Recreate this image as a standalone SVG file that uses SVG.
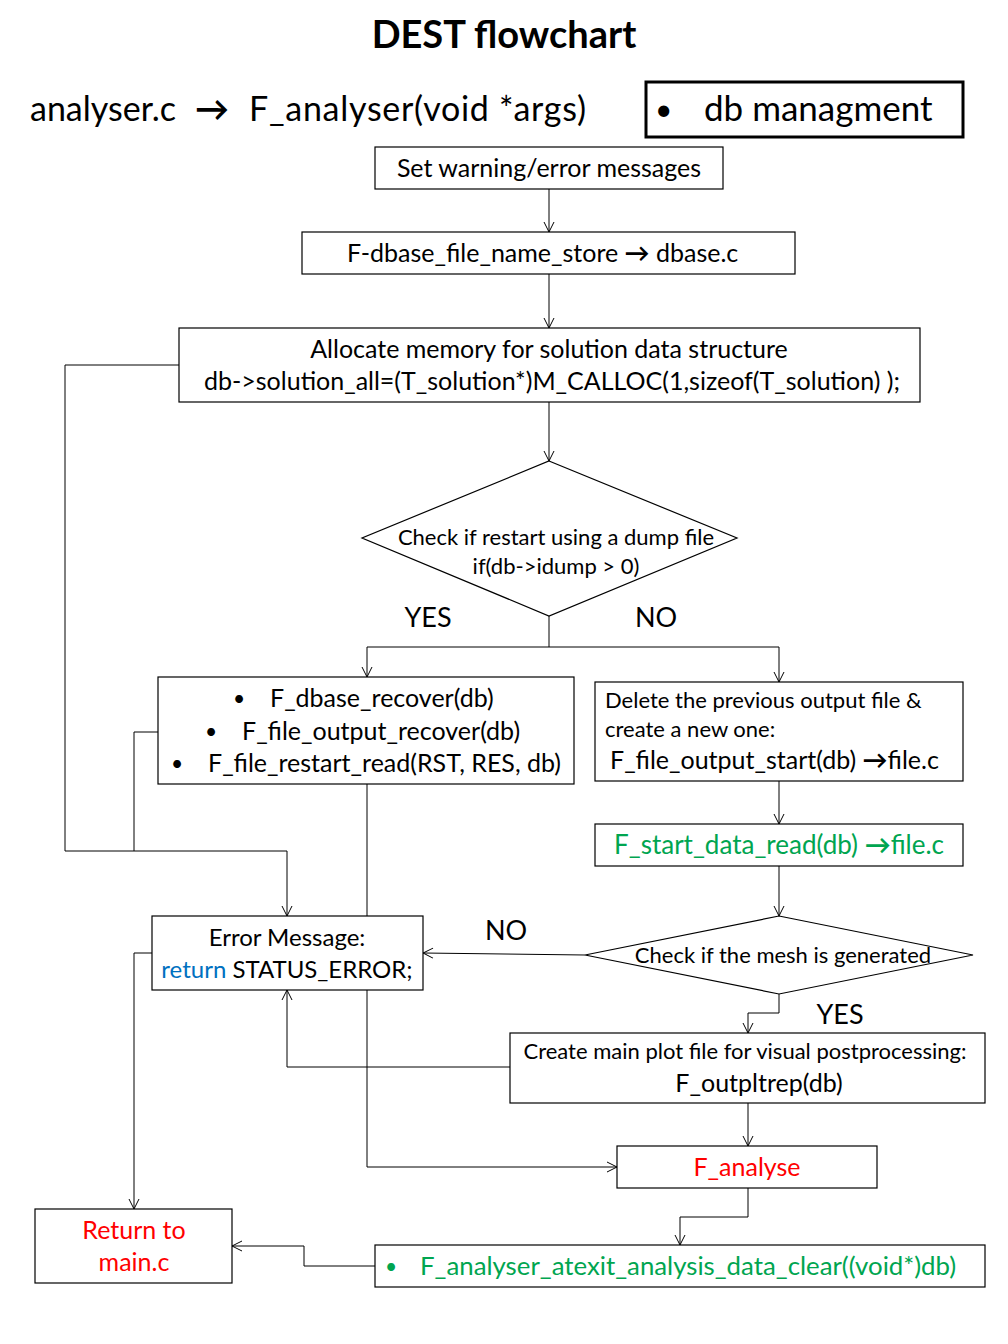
<svg xmlns="http://www.w3.org/2000/svg" width="1008" height="1344" viewBox="0 0 1008 1344">
  <style>
    text { font-family: Lato, "Open Sans", "Liberation Sans", sans-serif; fill: #000; }
    .box { fill: #fff; stroke: #000; stroke-width: 1.2; }
    .t { font-size: 25px; }
    .s { font-size: 22px; }
    .mid { text-anchor: middle; }
    .lbl { font-size: 27px; }
    .arr { font-weight: bold; }
    .green { fill: #00a550; }
    .red { fill: #ff0000; }
    .blue { fill: #0070c0; }
    .wire { fill: none; stroke: #000; stroke-width: 1; }
  </style>
  <defs>
    <marker id="arrow" viewBox="0 0 12 12" refX="11" refY="6" markerWidth="12" markerHeight="12" markerUnits="userSpaceOnUse" orient="auto">
      <polyline points="1,1 11,6 1,11" fill="none" stroke="#000" stroke-width="1"/>
    </marker>
  </defs>
  <rect width="1008" height="1344" fill="#fff"/>

  <!-- headings -->
  <g id="title">
    <text x="504" y="48" class="mid" style="font-size:38px;font-weight:bold">DEST flowchart</text>
  </g>
  <g id="header" style="font-size:34px">
    <text x="30" y="121">analyser.c</text>
    <text x="195" y="121" class="arr">→</text>
    <text x="249" y="121" textLength="337">F_analyser(void *args)</text>
  </g>
  <g id="db-managment">
    <rect x="646" y="82" width="317" height="55" fill="#fff" stroke="#000" stroke-width="3"/>
    <text x="655" y="120" style="font-size:30px">•</text>
    <text x="704" y="121" style="font-size:35px">db managment</text>
  </g>

  <!-- connectors -->
  <g id="connectors" class="wire">
    <line x1="549" y1="189" x2="549" y2="232" marker-end="url(#arrow)"/>
    <line x1="549" y1="274" x2="549" y2="328" marker-end="url(#arrow)"/>
    <line x1="549" y1="402" x2="549" y2="461" marker-end="url(#arrow)"/>
    <polyline points="549,616 549,647 367,647 367,677" marker-end="url(#arrow)"/>
    <polyline points="549,647 779,647 779,682" marker-end="url(#arrow)"/>
    <line x1="779" y1="781" x2="779" y2="824" marker-end="url(#arrow)"/>
    <line x1="779" y1="866" x2="779" y2="916" marker-end="url(#arrow)"/>
    <line x1="585" y1="955" x2="423" y2="953" marker-end="url(#arrow)"/>
    <polyline points="779,994 779,1013 748,1013 748,1033" marker-end="url(#arrow)"/>
    <polyline points="510,1067 287,1067 287,990" marker-end="url(#arrow)"/>
    <line x1="748" y1="1103" x2="748" y2="1146" marker-end="url(#arrow)"/>
    <polyline points="367,784 367,1167 617,1167" marker-end="url(#arrow)"/>
    <polyline points="748,1188 748,1217 680,1217 680,1245" marker-end="url(#arrow)"/>
    <polyline points="375,1266 304,1266 304,1246 232,1246" marker-end="url(#arrow)"/>
    <polyline points="179,365 65,365 65,851 287,851 287,916" marker-end="url(#arrow)"/>
    <polyline points="158,732 134,732 134,851"/>
    <polyline points="152,953 134,953 134,1209" marker-end="url(#arrow)"/>
  </g>

  <g id="set-messages">
    <rect class="box" x="375" y="147" width="348" height="42"/>
    <text x="549" y="177" class="t mid">Set warning/error messages</text>
  </g>
  <g id="dbase-file-name">
    <rect class="box" x="302" y="232" width="493" height="42"/>
    <text x="347" y="262" class="t">F-dbase_file_name_store <tspan class="arr">→</tspan>  dbase.c</text>
  </g>
  <g id="allocate">
    <rect class="box" x="179" y="328" width="741" height="74"/>
    <text x="549" y="358" class="t mid">Allocate memory for solution data structure</text>
    <text x="552" y="390" class="t mid">db-&gt;solution_all=(T_solution*)M_CALLOC(1,sizeof(T_solution) );</text>
  </g>
  <g id="restart-check">
    <polygon class="box" points="549,461 737,538 549,616 362,538"/>
    <text x="556" y="545" class="s mid">Check if restart using a dump file</text>
    <text x="556" y="574" class="s mid">if(db-&gt;idump &gt; 0)</text>
  </g>
  <g id="restart-labels">
    <text x="428" y="627" class="lbl mid">YES</text>
    <text x="656" y="627" class="lbl mid">NO</text>
  </g>
  <g id="recover" style="font-size:25px">
    <rect class="box" x="158" y="677" width="416" height="107"/>
    <text x="233" y="706" style="font-size:21px">•</text>
    <text x="270" y="707">F_dbase_recover(db)</text>
    <text x="205" y="739" style="font-size:21px">•</text>
    <text x="242" y="740">F_file_output_recover(db)</text>
    <text x="171" y="771" style="font-size:21px">•</text>
    <text x="208" y="772">F_file_restart_read(RST, RES, db)</text>
  </g>
  <g id="output-start">
    <rect class="box" x="595" y="682" width="368" height="99"/>
    <text x="605" y="708" class="s">Delete the previous output file &amp;</text>
    <text x="605" y="737" class="s">create a new one:</text>
    <text x="610" y="769" class="t">F_file_output_start(db) <tspan class="arr">→</tspan>file.c</text>
  </g>
  <g id="start-data-read">
    <rect class="box" x="595" y="824" width="368" height="42"/>
    <text x="779" y="854" class="mid green" style="font-size:26px">F_start_data_read(db) <tspan class="arr">→</tspan>file.c</text>
  </g>
  <g id="mesh-check">
    <polygon class="box" points="779,916 973,955 779,994 585,955"/>
    <text x="783" y="963" class="s mid">Check if the mesh is generated</text>
  </g>
  <g id="mesh-labels">
    <text x="506" y="940" class="lbl mid">NO</text>
    <text x="840" y="1024" class="lbl mid">YES</text>
  </g>
  <g id="error-message">
    <rect class="box" x="152" y="916" width="271" height="74"/>
    <text x="287" y="946" class="mid" style="font-size:24px">Error Message:</text>
    <text x="287" y="978" class="mid" style="font-size:24px"><tspan class="blue">return</tspan> STATUS_ERROR;</text>
  </g>
  <g id="plot-file">
    <rect class="box" x="510" y="1033" width="475" height="70"/>
    <text x="745" y="1059" class="s mid">Create main plot file for visual postprocessing:</text>
    <text x="759" y="1092" class="t mid">F_outpltrep(db)</text>
  </g>
  <g id="analyse">
    <rect class="box" x="617" y="1146" width="260" height="42"/>
    <text x="747" y="1176" class="t mid red">F_analyse</text>
  </g>
  <g id="data-clear" style="font-size:25.8px">
    <rect class="box" x="375" y="1245" width="610" height="42"/>
    <text x="385" y="1274" class="green" style="font-size:21px">•</text>
    <text x="420" y="1275" class="green">F_analyser_atexit_analysis_data_clear((void*)db)</text>
  </g>
  <g id="return-main">
    <rect class="box" x="35" y="1209" width="197" height="74"/>
    <text x="134" y="1239" class="t mid red">Return to</text>
    <text x="134" y="1271" class="t mid red">main.c</text>
  </g>
</svg>
